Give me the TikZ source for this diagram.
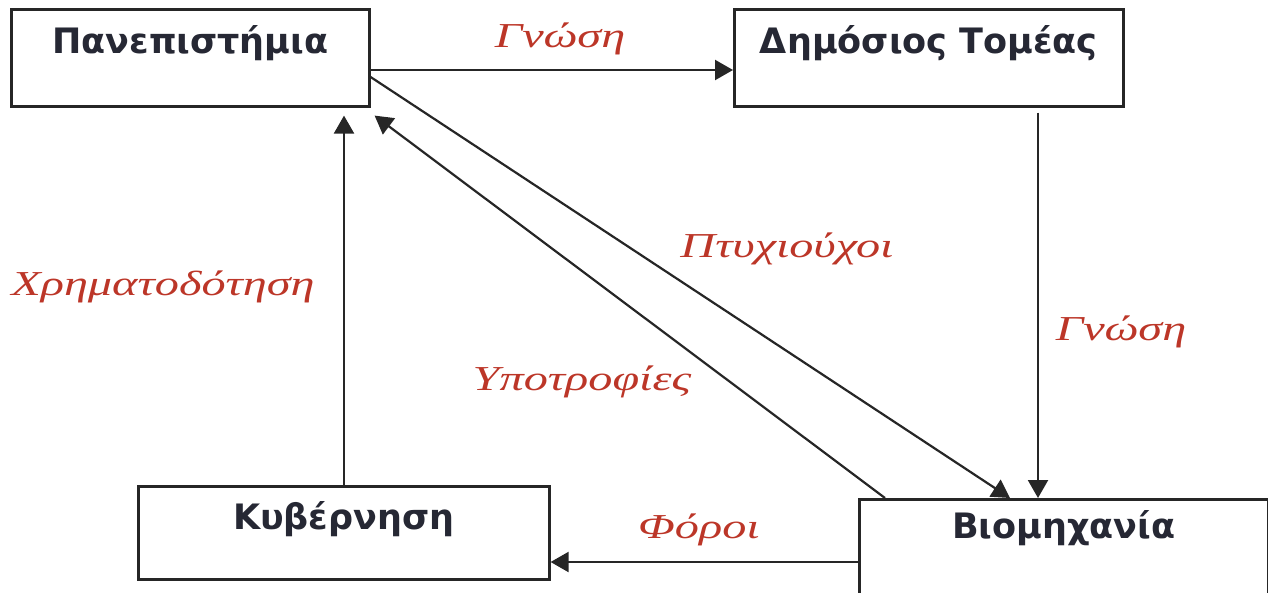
\documentclass[tikz,border=0pt]{standalone}
\usepackage{fontspec}
\setmainfont{Liberation Serif}
\newfontfamily\boxfont{DejaVu Sans}
\newfontfamily\flowfont[FakeStretch=1.38]{Liberation Serif}
\usetikzlibrary{arrows.meta}
\definecolor{flowred}{RGB}{188,54,40}
\definecolor{boxtext}{RGB}{38,40,52}
\tikzset{
  actor/.style={draw=black!85, line width=2.6pt, inner sep=0pt, anchor=north west,
    font=\boxfont\bfseries\fontsize{35}{35}\selectfont, text=boxtext},
  flow/.style={draw=black!85, line width=2.2pt,
    -{Triangle[length=18pt,width=20pt]}},
  flowlabel/.style={font=\flowfont\itshape\fontsize{35}{35}\selectfont, text=flowred,
    inner sep=0pt, anchor=base}
}
\begin{document}
\begin{tikzpicture}[x=1pt,y=-1pt]
  \useasboundingbox (0,0) rectangle (1268,592);
  % the four actors
  \node[actor, minimum width=358pt, text height=44pt, text depth=53pt] (uni) at (10,8) {Πανεπιστήμια};
  \node[actor, minimum width=389pt, text height=44pt, text depth=53pt] (pub) at (733,8) {Δημόσιος Τομέας};
  \node[actor, minimum width=409pt, text height=39pt, text depth=70pt] (ind) at (858,498) {Βιομηχανία};
  \node[actor, minimum width=411pt, text height=43pt, text depth=50pt] (gov) at (137,485) {Κυβέρνηση};
  % anchor points of the connectors
  \coordinate (uniA) at ([yshift=-62pt]uni.north east);
  \coordinate (uniB) at ([yshift=-69pt]uni.north east);
  \coordinate (uniC) at ([xshift=4pt,yshift=-8pt]uni.south east);
  \coordinate (uniD) at ([xshift=334pt,yshift=-8pt]uni.south west);
  \coordinate (pubA) at ([yshift=-62pt]pub.north west);
  \coordinate (pubB) at ([xshift=305pt,yshift=-5pt]pub.south west);
  \coordinate (indA) at ([xshift=180pt]ind.north west);
  \coordinate (indB) at ([xshift=152pt]ind.north west);
  \coordinate (indC) at ([xshift=27pt]ind.north west);
  \coordinate (indD) at ([yshift=-64pt]ind.north west);
  \coordinate (govA) at ([xshift=207pt]gov.north west);
  \coordinate (govB) at ([yshift=-77pt]gov.north east);
  % flows
  \draw[flow] (uniA) -- (pubA);
  \draw[flow] (pubB) -- (indA);
  \draw[flow] (uniB) -- (indB);
  \draw[flow] (indC) -- (uniC);
  \draw[flow] (govA) -- (uniD);
  \draw[flow] (indD) -- (govB);
  % flow labels
  \node[flowlabel] (l1) at (560,47) {Γνώση};
  \node[flowlabel] (l2) at (1121,340) {Γνώση};
  \node[flowlabel] (l3) at (787,257) {Πτυχιούχοι};
  \node[flowlabel] (l4) at (582,390) {Υποτροφίες};
  \node[flowlabel] (l5) at (163,295) {Χρηματοδότηση};
  \node[flowlabel] (l6) at (699,538) {Φόροι};
\end{tikzpicture}
\end{document}
